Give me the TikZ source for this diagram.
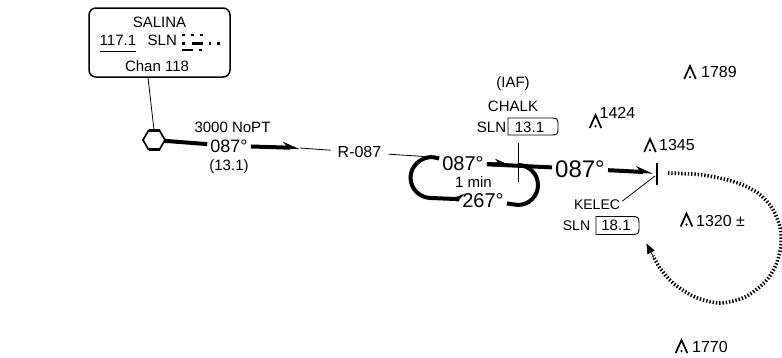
\documentclass[tikz,border=0pt]{standalone}
\usepackage{fontspec}
\setmainfont{Liberation Sans}
\usetikzlibrary{arrows.meta}
\begin{document}
\begin{tikzpicture}[x=1pt,y=-1pt,
  lab/.style={inner sep=0pt, font=\fontsize{15}{17}\selectfont},
  smalllab/.style={inner sep=0pt, font=\fontsize{14}{16}\selectfont},
  spotlab/.style={inner sep=0pt, font=\fontsize{16}{18}\selectfont, anchor=base west},
  onl/.style={inner xsep=3pt, inner ysep=1pt},
  course/.style={line width=4pt},
  thinl/.style={line width=0.8pt},
  hp/.style={-{Stealth[harpoon,length=14pt,width=11pt]}},
  hps/.style={-{Stealth[harpoon,swap,length=14pt,width=11pt]}},
  dotl/.style={line width=3.6pt, dash pattern=on 1.4pt off 1.9pt},
  dmebox/.style={line width=0.9pt},
  spotht/.pic={\draw[line width=1.7pt, line join=miter] (-5.8,6.5) -- (0,-6.5) -- (5.8,6.5);
               \fill (0,4.6) circle[radius=1.2pt];}
]
\fill[white] (0,0) rectangle (782,357);
\useasboundingbox (0,0) rectangle (782,357);

% ---- SALINA navaid box
\node[draw, rounded corners=7pt, line width=1.5pt, minimum width=141pt, minimum height=69pt, inner sep=0pt] (salina) at (159.5,42.5) {};
\node[lab, anchor=base] (sname) at (159.5,27) {SALINA};
\node[lab, anchor=base west] (freq) at (99.5,45) {117.1};
\draw[line width=0.9pt] ([yshift=-6pt]freq.south west) -- ([yshift=-6pt]freq.south east);
\node[lab, anchor=base west] (ident) at (147.5,45) {SLN};
\node[lab, anchor=base] (chan) at (157,71.5) {Chan 118};
% morse code
\foreach \mx in {183.3,192.7,201.7} \fill (\mx-1.35,35-1.35) rectangle (\mx+1.35,35+1.35);
\fill (183.3-1.35,43.3-1.35) rectangle (183.3+1.35,43.3+1.35);
\fill (191.7,43.3-1.35) rectangle (203.3,43.3+1.35);
\foreach \mx in {210,218.3} \fill (\mx-1.35,43.3-1.35) rectangle (\mx+1.35,43.3+1.35);
\fill (181.7,50-1.35) rectangle (192.7,50+1.35);
\fill (200.7-1.35,50-1.35) rectangle (200.7+1.35,50+1.35);

% ---- VOR hexagon
\node[circle, inner sep=0pt, minimum size=20pt] (hex) at (154,140) {};
\begin{scope}[shift={(hex.center)}]
  \draw[line width=1.7pt, line join=miter] (11,0) -- (5.5,9.5) -- (-5.5,9.5) -- (-11,0) -- (-5.5,-9.5) -- (5.5,-9.5) -- cycle;
  \draw[line width=3.4pt] (-5.5,9.5) -- (5.5,9.5);
  \draw[line width=3.4pt] (-5.5,-9.5) -- (5.5,-9.5);
\end{scope}
\draw[thinl] ([xshift=-11.5pt]salina.south) -- (hex.north);

% ---- outbound course from SALINA
\node[lab, anchor=base] (noptl) at (232.5,132) {3000 NoPT};
\node[onl, anchor=base, font=\fontsize{18}{20}\selectfont] (c1) at (229,152) {087°};
\node[lab, anchor=base] (dist1) at (229,170) {(13.1)};
\coordinate (a1) at (300,148);
\draw[course] (hex) -- (c1);
\draw[course, hp] (c1) -- (a1);
\node[onl, inner xsep=7pt, anchor=base, font=\fontsize{16}{18}\selectfont] (r087) at (359.5,157.8) {R-087};
\draw[thinl] (a1) -- (r087);

% ---- holding pattern
\coordinate (hA) at (432,157);
\coordinate (hC) at (431,198);
\coordinate (hD) at (518,205);
\coordinate (hB) at (518,165);
\coordinate (ar2) at (512,165);
\coordinate (ar3) at (447,199);
\draw[thinl] (r087) -- (hA);
\node[onl, anchor=base, font=\fontsize{20}{22}\selectfont] (h087) at (463,170) {087°};
\node[onl, anchor=base, font=\fontsize{20}{22}\selectfont] (h267) at (483,207) {267°};
\node[lab, anchor=base] (hmin) at (473.5,187) {1 min};
\draw[course] (hA) .. controls (420.7,157) and (410.5,166.2) .. (410.5,177.5)
              .. controls (410.5,188.8) and (419.7,198) .. (hC) -- (h267);
\draw[course, hps] (h267) -- (ar3);
\draw[course] (h267) -- (hD) .. controls (529,205) and (538,196) .. (538,185)
              .. controls (538,174) and (529,165) .. (hB);
\draw[course] (hA) -- (h087);

% ---- CHALK fix
\node[lab, anchor=base] (iaf) at (513,87) {(IAF)};
\node[lab, anchor=base] (chalk) at (513,111) {CHALK};
\node[lab, anchor=base] (sln1) at (491.5,132) {SLN};
\node[lab, anchor=base] (dme1) at (529.5,132) {13.1};
\draw[dmebox] (508,118) -- (549,118) .. controls (558,118) .. (558,126.5) .. controls (558,135) .. (549,135) -- (508,135) -- cycle;
\coordinate (chT) at (518,143);
\coordinate (chB) at (518,182);
\draw[thinl] (chT) -- (chB);

% ---- inbound to KELEC
\node[onl, anchor=base, font=\fontsize{24}{26}\selectfont] (k087) at (580,177) {087°};
\draw[course] (h087) -- (k087);
\draw[course, hp] (h087) -- (ar2);
\coordinate (kt) at (653,172.5);
\draw[course, hp] (k087) -- (kt);
\coordinate (kb1) at (657,163);
\coordinate (kb2) at (657,185);
\draw[line width=2.6pt] (kb1) -- (kb2);
\coordinate (kfix) at (655,176);
\node[smalllab, anchor=base] (kelec) at (597,209) {KELEC};
\draw[thinl] ([xshift=2pt,yshift=3pt]kelec.east) -- (kfix);
\node[smalllab, anchor=base] (sln2) at (576.5,230) {SLN};
\node[lab, anchor=base] (dme2) at (616,230) {18.1};
\draw[dmebox] (596,216.5) -- (630,216.5) .. controls (639,216.5) .. (639,225.5) .. controls (639,234.5) .. (630,234.5) -- (596,234.5) -- cycle;

% ---- holding at KELEC (dotted)
\draw[dotl] plot[smooth] coordinates {(668,173) (703,175) (735,182) (758,193) (772,208) (780,227) (781,245) (776,265) (765,282) (745,297) (720,303) (695,297) (673,283) (660,268) (653,256)};
\coordinate (arS) at (654,258);
\coordinate (arT) at (646.5,243.5);
\draw[line width=0.6pt, -{Triangle[length=10pt,width=8pt]}] (arS) -- (arT);

% ---- spot heights
\pic at (595.5,121.5) {spotht};
\node[spotlab] (s1424) at (599.5,118) {1424};
\pic at (650,145.5) {spotht};
\node[spotlab] (s1345) at (659,150.5) {1345};
\pic at (686.5,220) {spotht};
\node[spotlab] (s1320) at (696,226) {1320 ±};
\pic at (690,72.5) {spotht};
\node[spotlab] (s1789) at (701,77) {1789};
\pic at (681.5,346.5) {spotht};
\node[spotlab] (s1770) at (692,352) {1770};
\end{tikzpicture}
\end{document}
